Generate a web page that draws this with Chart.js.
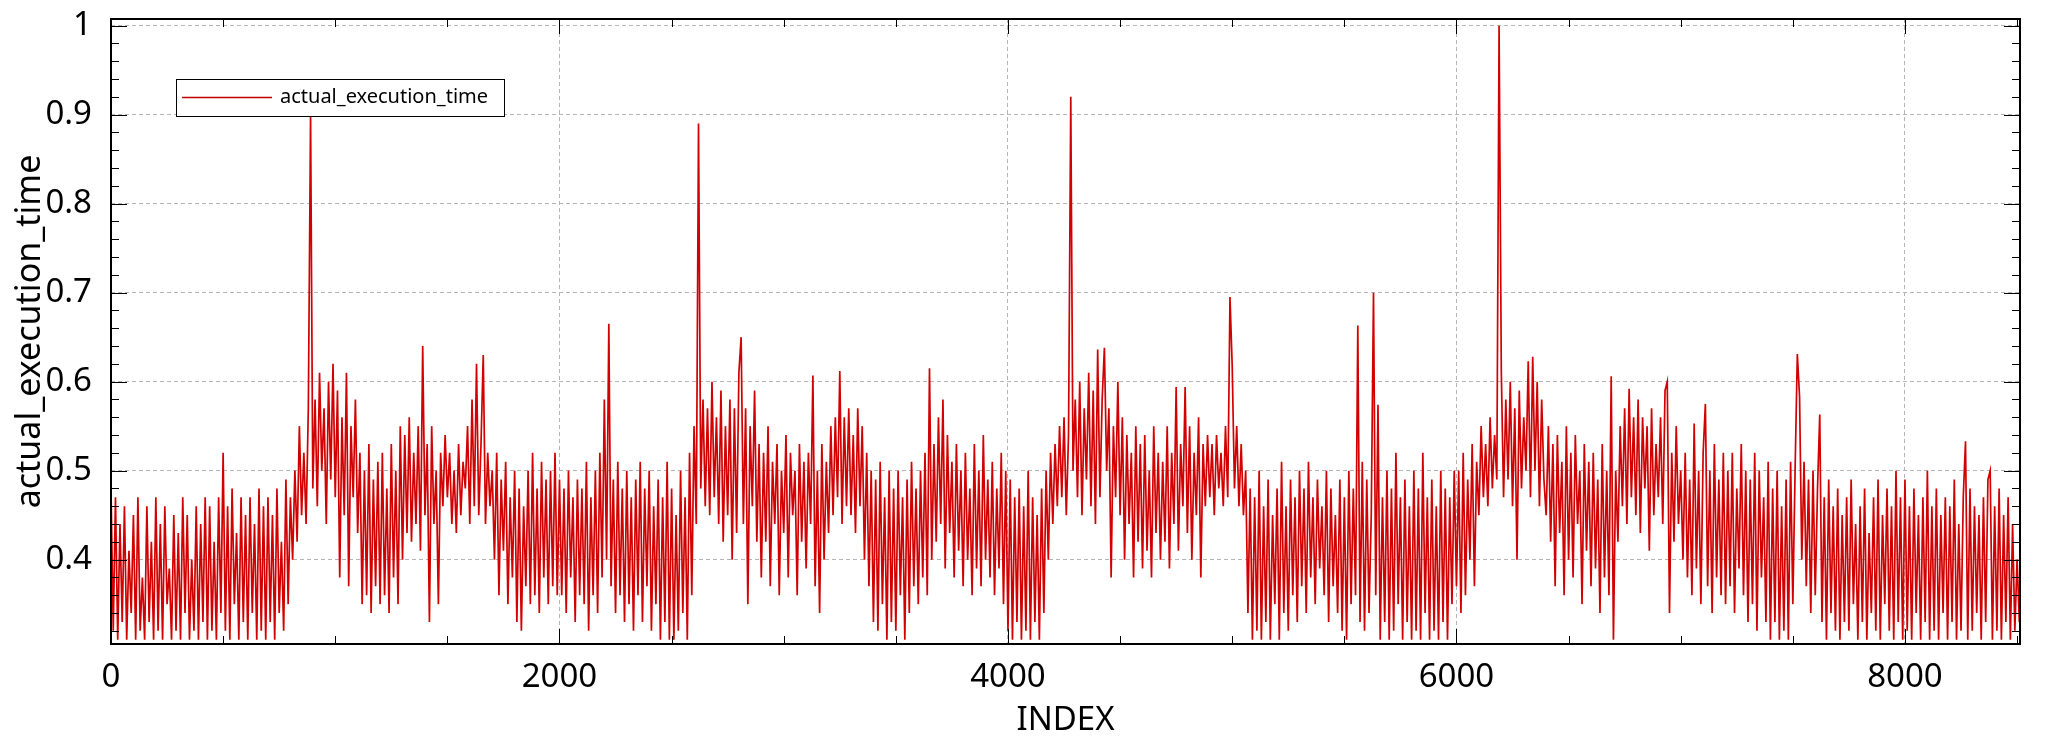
<!DOCTYPE html>
<html>
<head>
<meta charset="utf-8">
<script src="https://cdn.jsdelivr.net/npm/chart.js@4.4.1/dist/chart.umd.min.js"></script>
<style>
  html, body { margin: 0; padding: 0; background: #fff; }
</style>
</head>
<body>
<canvas id="lineChart" width="2048" height="749"></canvas>
<script>
// actual_execution_time, read every 10th INDEX off the plot
var STEP = 10;
var idx0000 = [
  0.48, 0.32, 0.47, 0.31, 0.44, 0.33, 0.46, 0.31, 0.41, 0.34,
  0.45, 0.31, 0.47, 0.32, 0.38, 0.31, 0.46, 0.33, 0.42, 0.31,
  0.47, 0.32, 0.44, 0.31, 0.46, 0.35, 0.39, 0.31, 0.45, 0.32,
  0.43, 0.31, 0.47, 0.34, 0.45, 0.31, 0.40, 0.32, 0.46, 0.31,
  0.44, 0.33, 0.47, 0.31, 0.46, 0.32, 0.42, 0.31, 0.47, 0.34,
  0.52, 0.32, 0.46, 0.31, 0.48, 0.35, 0.43, 0.31, 0.47, 0.33,
  0.45, 0.31, 0.47, 0.34, 0.44, 0.31, 0.48, 0.32, 0.46, 0.31,
  0.47, 0.33, 0.45, 0.31, 0.48, 0.34, 0.42, 0.32, 0.49, 0.35,
  0.47, 0.40, 0.50, 0.42, 0.55, 0.45, 0.52, 0.44, 0.57, 0.90,
  0.48, 0.58, 0.46, 0.61, 0.50, 0.57, 0.44, 0.60, 0.49, 0.62
];
var idx1000 = [
  0.47, 0.59, 0.38, 0.56, 0.45, 0.61, 0.37, 0.55, 0.47, 0.58,
  0.43, 0.52, 0.35, 0.50, 0.36, 0.53, 0.34, 0.49, 0.37, 0.51,
  0.35, 0.52, 0.36, 0.48, 0.34, 0.53, 0.38, 0.50, 0.35, 0.55,
  0.40, 0.54, 0.43, 0.56, 0.42, 0.52, 0.44, 0.55, 0.41, 0.64,
  0.45, 0.53, 0.33, 0.55, 0.44, 0.50, 0.35, 0.52, 0.46, 0.54,
  0.47, 0.52, 0.44, 0.50, 0.43, 0.53, 0.45, 0.51, 0.48, 0.55,
  0.44, 0.58, 0.46, 0.62, 0.45, 0.53, 0.63, 0.44, 0.52, 0.46,
  0.50, 0.40, 0.52, 0.36, 0.49, 0.41, 0.51, 0.35, 0.47, 0.38,
  0.50, 0.33, 0.48, 0.32, 0.46, 0.37, 0.50, 0.35, 0.52, 0.36,
  0.48, 0.34, 0.51, 0.38, 0.49, 0.35, 0.50, 0.37, 0.52, 0.36
];
var idx2000 = [
  0.49, 0.36, 0.48, 0.34, 0.50, 0.38, 0.47, 0.33, 0.49, 0.36,
  0.48, 0.35, 0.51, 0.32, 0.47, 0.36, 0.50, 0.34, 0.52, 0.38,
  0.58, 0.40, 0.665, 0.37, 0.49, 0.34, 0.51, 0.36, 0.48, 0.33,
  0.50, 0.35, 0.47, 0.32, 0.49, 0.36, 0.51, 0.33, 0.48, 0.37,
  0.50, 0.32, 0.46, 0.35, 0.49, 0.31, 0.47, 0.33, 0.51, 0.31,
  0.48, 0.31, 0.45, 0.32, 0.50, 0.34, 0.47, 0.31, 0.52, 0.36,
  0.55, 0.44, 0.89, 0.48, 0.58, 0.46, 0.57, 0.45, 0.60, 0.47,
  0.56, 0.44, 0.59, 0.42, 0.55, 0.45, 0.58, 0.40, 0.57, 0.43,
  0.61, 0.65, 0.44, 0.57, 0.35, 0.55, 0.46, 0.59, 0.42, 0.53,
  0.38, 0.52, 0.42, 0.55, 0.37, 0.51, 0.44, 0.53, 0.36, 0.50
];
var idx3000 = [
  0.43, 0.54, 0.38, 0.52, 0.45, 0.50, 0.36, 0.53, 0.42, 0.51,
  0.39, 0.52, 0.44, 0.607, 0.37, 0.50, 0.34, 0.53, 0.40, 0.51,
  0.43, 0.55, 0.45, 0.56, 0.47, 0.612, 0.44, 0.56, 0.46, 0.57,
  0.45, 0.54, 0.43, 0.57, 0.46, 0.55, 0.40, 0.52, 0.37, 0.50,
  0.33, 0.49, 0.32, 0.51, 0.35, 0.47, 0.31, 0.50, 0.33, 0.48,
  0.32, 0.50, 0.36, 0.47, 0.31, 0.49, 0.34, 0.51, 0.37, 0.48,
  0.35, 0.50, 0.38, 0.52, 0.36, 0.615, 0.40, 0.53, 0.42, 0.56,
  0.44, 0.58, 0.39, 0.54, 0.43, 0.51, 0.38, 0.53, 0.41, 0.50,
  0.37, 0.52, 0.40, 0.48, 0.36, 0.53, 0.39, 0.50, 0.37, 0.54,
  0.40, 0.49, 0.38, 0.51, 0.36, 0.48, 0.39, 0.52, 0.35, 0.50
];
var idx4000 = [
  0.32, 0.49, 0.31, 0.47, 0.33, 0.48, 0.31, 0.46, 0.32, 0.50,
  0.31, 0.47, 0.33, 0.45, 0.31, 0.48, 0.34, 0.50, 0.40, 0.52,
  0.44, 0.53, 0.46, 0.55, 0.47, 0.56, 0.45, 0.54, 0.92, 0.50,
  0.58, 0.47, 0.60, 0.45, 0.57, 0.49, 0.61, 0.46, 0.59, 0.44,
  0.636, 0.47, 0.58, 0.638, 0.50, 0.57, 0.38, 0.55, 0.47, 0.60,
  0.45, 0.56, 0.40, 0.54, 0.44, 0.52, 0.38, 0.55, 0.42, 0.53,
  0.39, 0.54, 0.41, 0.50, 0.38, 0.55, 0.43, 0.52, 0.40, 0.51,
  0.42, 0.55, 0.39, 0.52, 0.44, 0.594, 0.41, 0.53, 0.46, 0.594,
  0.43, 0.55, 0.40, 0.52, 0.45, 0.56, 0.38, 0.53, 0.46, 0.54,
  0.47, 0.53, 0.45, 0.54, 0.48, 0.52, 0.46, 0.55, 0.47, 0.695
];
var idx5000 = [
  0.617, 0.48, 0.55, 0.46, 0.53, 0.45, 0.50, 0.34, 0.48, 0.31,
  0.47, 0.32, 0.50, 0.31, 0.46, 0.33, 0.49, 0.31, 0.45, 0.35,
  0.48, 0.31, 0.51, 0.34, 0.46, 0.32, 0.49, 0.36, 0.47, 0.33,
  0.50, 0.37, 0.48, 0.34, 0.51, 0.38, 0.47, 0.35, 0.49, 0.39,
  0.46, 0.36, 0.50, 0.33, 0.48, 0.37, 0.45, 0.34, 0.49, 0.32,
  0.47, 0.31, 0.50, 0.35, 0.48, 0.36, 0.663, 0.33, 0.51, 0.32,
  0.49, 0.34, 0.45, 0.70, 0.36, 0.574, 0.31, 0.47, 0.33, 0.50,
  0.31, 0.48, 0.32, 0.52, 0.35, 0.47, 0.31, 0.49, 0.33, 0.46,
  0.31, 0.50, 0.32, 0.48, 0.31, 0.52, 0.34, 0.47, 0.31, 0.49,
  0.32, 0.46, 0.31, 0.50, 0.33, 0.48, 0.31, 0.47, 0.35, 0.50
];
var idx6000 = [
  0.37, 0.50, 0.34, 0.52, 0.36, 0.49, 0.40, 0.53, 0.37, 0.51,
  0.45, 0.55, 0.47, 0.53, 0.46, 0.56, 0.48, 0.54, 0.49, 1.0,
  0.611, 0.47, 0.58, 0.49, 0.60, 0.46, 0.57, 0.40, 0.59, 0.48,
  0.56, 0.50, 0.623, 0.47, 0.628, 0.50, 0.60, 0.46, 0.58, 0.49,
  0.45, 0.55, 0.42, 0.53, 0.37, 0.54, 0.43, 0.51, 0.36, 0.55,
  0.40, 0.52, 0.38, 0.54, 0.44, 0.50, 0.35, 0.53, 0.41, 0.51,
  0.37, 0.52, 0.39, 0.49, 0.34, 0.53, 0.38, 0.50, 0.36, 0.606,
  0.31, 0.50, 0.42, 0.55, 0.46, 0.57, 0.44, 0.592, 0.47, 0.56,
  0.45, 0.58, 0.43, 0.56, 0.48, 0.55, 0.41, 0.57, 0.45, 0.53,
  0.47, 0.56, 0.44, 0.59, 0.60, 0.34, 0.52, 0.42, 0.55, 0.44
];
var idx7000 = [
  0.50, 0.40, 0.52, 0.38, 0.49, 0.36, 0.553, 0.39, 0.50, 0.35,
  0.52, 0.575, 0.37, 0.50, 0.34, 0.53, 0.38, 0.49, 0.36, 0.52,
  0.35, 0.50, 0.37, 0.52, 0.34, 0.48, 0.39, 0.53, 0.36, 0.50,
  0.33, 0.49, 0.35, 0.52, 0.32, 0.50, 0.38, 0.47, 0.33, 0.51,
  0.31, 0.48, 0.33, 0.50, 0.31, 0.46, 0.32, 0.49, 0.31, 0.51,
  0.35, 0.50, 0.631, 0.583, 0.40, 0.51, 0.37, 0.49, 0.34, 0.50,
  0.36, 0.48, 0.563, 0.33, 0.47, 0.31, 0.49, 0.34, 0.46, 0.32,
  0.48, 0.31, 0.45, 0.33, 0.47, 0.32, 0.49, 0.35, 0.44, 0.31,
  0.46, 0.33, 0.48, 0.31, 0.43, 0.34, 0.47, 0.32, 0.49, 0.31,
  0.45, 0.35, 0.48, 0.32, 0.46, 0.31, 0.50, 0.33, 0.47, 0.31
];
var idx8000 = [
  0.49, 0.32, 0.46, 0.31, 0.48, 0.34, 0.45, 0.31, 0.47, 0.33,
  0.50, 0.31, 0.46, 0.32, 0.48, 0.31, 0.45, 0.34, 0.47, 0.31,
  0.46, 0.33, 0.49, 0.31, 0.44, 0.32, 0.47, 0.533, 0.31, 0.48,
  0.32, 0.46, 0.34, 0.45, 0.31, 0.47, 0.33, 0.49, 0.50, 0.31,
  0.46, 0.32, 0.48, 0.31, 0.45, 0.33, 0.47, 0.31, 0.44, 0.32,
  0.40, 0.33
];

// axes
var xTicks = [0, 2000, 4000, 6000, 8000];
var xTickLabels = ['0', '2000', '4000', '6000', '8000'];
var xMinorTicks = [500, 1000, 1500, 2500, 3000, 3500, 4500, 5000, 5500, 6500, 7000, 7500, 8500];
var yTicks = [0.4, 0.5, 0.6, 0.7, 0.8, 0.9, 1.0];
var yTickLabels = ['0.4', '0.5', '0.6', '0.7', '0.8', '0.9', '1'];
var yMinorTicks = [0.32, 0.34, 0.36, 0.38, 0.42, 0.44, 0.46, 0.48, 0.52, 0.54, 0.56, 0.58,
  0.62, 0.64, 0.66, 0.68, 0.72, 0.74, 0.76, 0.78, 0.82, 0.84, 0.86, 0.88, 0.92, 0.94, 0.96, 0.98];
var X_MIN = 0, X_MAX = 8513;
var Y_MIN = 0.3052, Y_MAX = 1.0075;

var values = [].concat(idx0000, idx1000, idx2000, idx3000, idx4000, idx5000, idx6000, idx7000, idx8000);
var points = values.map(function (v, i) { return { x: i * STEP, y: v }; });

var FONT = '"Noto Sans", "DejaVu Sans", sans-serif';

// gnuplot style frame, inward ticks and boxed legend
var framePlugin = {
  id: 'frame',
  afterDatasetsDraw: function (chart) {
    var ctx = chart.ctx, a = chart.chartArea;
    var xs = chart.scales.x, ys = chart.scales.y;
    ctx.save();
    ctx.strokeStyle = '#000';
    ctx.lineWidth = 1;
    ctx.beginPath();
    xTicks.forEach(function (v) {
      var px = Math.round(xs.getPixelForValue(v)) + 0.5;
      ctx.moveTo(px, a.bottom); ctx.lineTo(px, a.bottom - 15);
      ctx.moveTo(px, a.top); ctx.lineTo(px, a.top + 15);
    });
    xMinorTicks.forEach(function (v) {
      var px = Math.round(xs.getPixelForValue(v)) + 0.5;
      ctx.moveTo(px, a.bottom); ctx.lineTo(px, a.bottom - 8);
      ctx.moveTo(px, a.top); ctx.lineTo(px, a.top + 8);
    });
    yTicks.forEach(function (v) {
      var py = Math.round(ys.getPixelForValue(v)) + 0.5;
      ctx.moveTo(a.left, py); ctx.lineTo(a.left + 16, py);
      ctx.moveTo(a.right, py); ctx.lineTo(a.right - 16, py);
    });
    yMinorTicks.forEach(function (v) {
      var py = Math.round(ys.getPixelForValue(v)) + 0.5;
      ctx.moveTo(a.left, py); ctx.lineTo(a.left + 8, py);
      ctx.moveTo(a.right, py); ctx.lineTo(a.right - 8, py);
    });
    ctx.stroke();

    ctx.lineWidth = 2;
    ctx.strokeRect(a.left, a.top, a.right - a.left, a.bottom - a.top);

    // legend box
    ctx.fillStyle = '#fff';
    ctx.fillRect(176.5, 79.5, 328, 37);
    ctx.lineWidth = 1;
    ctx.strokeRect(176.5, 79.5, 328, 37);
    ctx.strokeStyle = '#c00000';
    ctx.lineWidth = 1.5;
    ctx.beginPath();
    ctx.moveTo(182, 97.5); ctx.lineTo(272, 97.5);
    ctx.stroke();
    ctx.fillStyle = '#000';
    ctx.font = '20px ' + FONT;
    ctx.textBaseline = 'middle';
    ctx.textAlign = 'left';
    ctx.fillText(chart.data.datasets[0].label, 280, 97);
    ctx.restore();
  }
};

var lineChart = new Chart(document.getElementById('lineChart'), {
  type: 'line',
  data: {
    datasets: [{
      label: 'actual_execution_time',
      data: points,
      borderColor: '#d20000',
      borderWidth: 1.7,
      pointRadius: 0,
      tension: 0,
      fill: false
    }]
  },
  options: {
    responsive: false,
    animation: false,
    devicePixelRatio: 1,
    parsing: false,
    layout: { padding: { top: 19, right: 28, left: 0, bottom: 0 } },
    plugins: {
      legend: { display: false },
      tooltip: { enabled: false }
    },
    scales: {
      x: {
        type: 'linear',
        min: X_MIN,
        max: X_MAX,
        afterBuildTicks: function (s) { s.ticks = xTicks.map(function (v) { return { value: v }; }); },
        afterFit: function (s) { s.height = 105; s.paddingLeft = 0; s.paddingRight = 0; },
        grid: { color: '#b4b4b4', lineWidth: 1, drawTicks: false },
        border: { display: false, dash: [4, 3] },
        ticks: {
          autoSkip: false,
          maxRotation: 0,
          padding: 14,
          color: '#000',
          font: { family: FONT, size: 33 },
          callback: function (v, i) { return xTickLabels[i]; }
        },
        title: {
          display: true,
          text: 'INDEX',
          color: '#000',
          font: { family: FONT, size: 33 },
          padding: { top: 0, bottom: 9 }
        }
      },
      y: {
        min: Y_MIN,
        max: Y_MAX,
        afterBuildTicks: function (s) { s.ticks = yTicks.map(function (v) { return { value: v }; }); },
        afterFit: function (s) { s.width = 111; s.paddingTop = 0; s.paddingBottom = 0; },
        grid: { color: '#b4b4b4', lineWidth: 1, drawTicks: false },
        border: { display: false, dash: [4, 3] },
        ticks: {
          padding: 19,
          color: '#000',
          font: { family: FONT, size: 33 },
          callback: function (v, i) { return yTickLabels[i]; }
        },
        title: {
          display: true,
          text: 'actual_execution_time',
          color: '#000',
          font: { family: FONT, size: 34 },
          padding: { top: 10, bottom: 0 }
        }
      }
    }
  },
  plugins: [framePlugin]
});
</script>
</body>
</html>
